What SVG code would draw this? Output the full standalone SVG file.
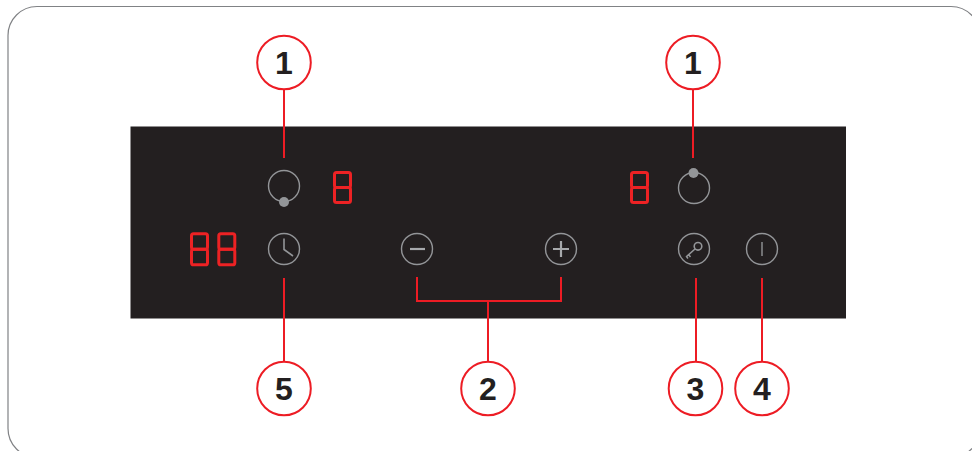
<svg xmlns="http://www.w3.org/2000/svg" width="972" height="451" viewBox="0 0 972 451">
<style>
.lead{fill:none;stroke:#ed1c24;stroke-width:2;stroke-linecap:butt}
.badge{fill:#fff;stroke:#ed1c24;stroke-width:2}
.num{font-family:"Liberation Sans",Arial,sans-serif;font-weight:700;font-size:32px;fill:#231f20;text-anchor:middle}
.key{fill:none;stroke:#939598;stroke-width:1.4}
.sym{fill:none;stroke:#939598;stroke-width:1.6}
.seg{fill:none;stroke:#ed2224;stroke-width:3;stroke-linejoin:round}
</style>
<defs>
<g id="digit"><rect x="0" y="0" width="16" height="15" rx="2" class="seg"/><rect x="0" y="15" width="16" height="15" rx="2" class="seg"/></g>
</defs>
<rect id="frame" x="8" y="6.500" width="972" height="451" rx="29" fill="#fff" stroke="#808285" stroke-width="1.200"/>
<rect id="panel" x="130.500" y="126.500" width="715.500" height="192" fill="#231f20"/>
<g id="connectors">
<path class="lead" d="M284 89V158"/>
<path class="lead" d="M693 89V158"/>
<path class="lead" d="M284 278V362"/>
<path class="lead" d="M417 277V301H561V277M488 301V362"/>
<path class="lead" d="M696 278V362"/>
<path class="lead" d="M762 278V362"/>
</g>
<g id="display-left"><use href="#digit" x="334.500" y="172.500"/></g>
<g id="display-right"><use href="#digit" x="631.500" y="172.500"/></g>
<g id="display-timer"><g transform="translate(191.500 233.800) scale(1 1.030)"><use href="#digit"/></g><g transform="translate(218.800 233.800) scale(1 1.030)"><use href="#digit"/></g></g>
<g id="key-zone-left"><circle class="key" cx="284" cy="186" r="15.500"/><circle cx="284" cy="202" r="5" fill="#939598"/></g>
<g id="key-zone-right"><circle class="key" cx="694" cy="188" r="15.500"/><circle cx="693.500" cy="173" r="5" fill="#939598"/></g>
<g id="key-timer"><circle class="key" cx="284" cy="249" r="15.500"/><path class="sym" d="M284 238.500V249.500L293 256"/></g>
<g id="key-minus"><circle class="key" cx="417" cy="249" r="15.500"/><path d="M410 249H425" fill="none" stroke="#a7a9ac" stroke-width="2.200"/></g>
<g id="key-plus"><circle class="key" cx="561" cy="249" r="15.500"/><path d="M553 249H569M561 241V257" fill="none" stroke="#a7a9ac" stroke-width="2.200"/></g>
<g id="key-lock"><circle class="key" cx="694" cy="249" r="15.500"/><circle class="sym" cx="698" cy="246.300" r="3.800"/><path class="sym" d="M695 249L686 257M688.500 254.500L690.500 257M686.500 256.500L688 258.500"/></g>
<g id="key-power"><circle class="key" cx="762" cy="249" r="15.500"/><path d="M762 242V256" fill="none" stroke="#939598" stroke-width="1.400"/></g>
<g id="badge-1a"><circle class="badge" cx="284" cy="62.500" r="26.800"/><text class="num" x="284" y="74">1</text></g>
<g id="badge-1b"><circle class="badge" cx="693" cy="62.500" r="26.800"/><text class="num" x="693" y="74">1</text></g>
<g id="badge-5"><circle class="badge" cx="284" cy="388.500" r="26.800"/><text class="num" x="284" y="400">5</text></g>
<g id="badge-2"><circle class="badge" cx="488" cy="388.500" r="26.800"/><text class="num" x="488" y="400">2</text></g>
<g id="badge-3"><circle class="badge" cx="695.500" cy="388.500" r="26.800"/><text class="num" x="695.500" y="400">3</text></g>
<g id="badge-4"><circle class="badge" cx="762" cy="388.500" r="26.800"/><text class="num" x="762" y="400">4</text></g>
</svg>
